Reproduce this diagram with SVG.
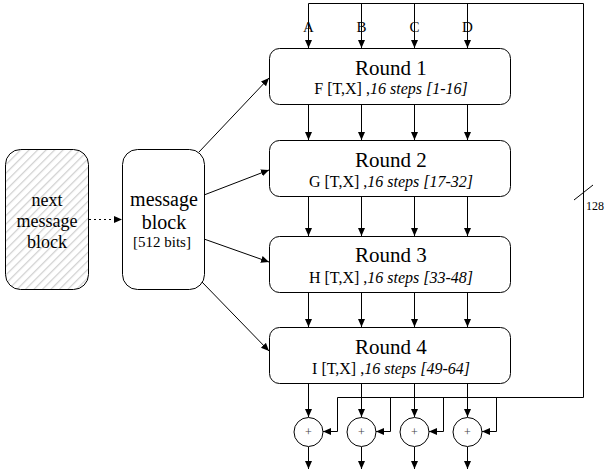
<svg xmlns="http://www.w3.org/2000/svg" width="605" height="474" viewBox="0 0 605 474">
<style>
.box{fill:#fff;stroke:#000;stroke-width:1}
.ln{fill:none;stroke:#000;stroke-width:1}
.t{font-family:'Liberation Serif','Times New Roman','DejaVu Serif',serif;fill:#000;text-anchor:middle}
.title{font-size:21px}
.sub{font-size:16px}
.it{font-style:italic}
</style>
<defs>
<marker id="ah" markerUnits="userSpaceOnUse" markerWidth="9" markerHeight="8" refX="8" refY="3.5" orient="auto"><path d="M0,0 L8,3.5 L0,7 z" fill="#000"/></marker>
<pattern id="hatch" patternUnits="userSpaceOnUse" width="6" height="6" patternTransform="rotate(45)"><rect width="6" height="6" fill="#fff"/><line x1="0" y1="0" x2="0" y2="6" stroke="#d0d0d0" stroke-width="2.5"/></pattern>
</defs>
<g id="next-block"><rect x="5.5" y="149.5" width="83" height="140" rx="15" fill="url(#hatch)" stroke="#000"/>
<text class="t" x="47" y="206" font-size="18">next</text><text class="t" x="47" y="227" font-size="18">message</text><text class="t" x="47" y="248" font-size="18">block</text></g>
<g id="message-block"><rect class="box" x="122.5" y="149.5" width="82" height="140" rx="15"/>
<text class="t" x="164" y="206" font-size="20">message</text><text class="t" x="164" y="229" font-size="20">block</text><text class="t" x="162" y="247" font-size="15">[512 bits]</text></g>
<g id="round1"><rect class="box" x="269.5" y="48.5" width="241" height="56" rx="10"/><text class="t title" x="391" y="75">Round 1</text><text class="t sub" x="391" y="94">F [T,X] ,<tspan class="it">16 steps [1-16]</tspan></text></g>
<g id="round2"><rect class="box" x="269.5" y="140.5" width="241" height="56" rx="10"/><text class="t title" x="391" y="167">Round 2</text><text class="t sub" x="391" y="186.5">G [T,X] ,<tspan class="it">16 steps [17-32]</tspan></text></g>
<g id="round3"><rect class="box" x="269.5" y="236.5" width="241" height="56" rx="10"/><text class="t title" x="391" y="262">Round 3</text><text class="t sub" x="391" y="282.5">H [T,X] ,<tspan class="it">16 steps [33-48]</tspan></text></g>
<g id="round4"><rect class="box" x="269.5" y="327.5" width="241" height="56" rx="10"/><text class="t title" x="391" y="353.5">Round 4</text><text class="t sub" x="391" y="374">I [T,X] ,<tspan class="it">16 steps [49-64]</tspan></text></g>
<g id="adders">
<circle class="box" cx="308.5" cy="432" r="14.5"/><circle class="box" cx="361.5" cy="432" r="14.5"/><circle class="box" cx="414.5" cy="432" r="14.5"/><circle class="box" cx="467.5" cy="432" r="14.5"/>
<g class="t" font-size="12" style="fill:#444"><text x="308.5" y="436">+</text><text x="361.5" y="436">+</text><text x="414.5" y="436">+</text><text x="467.5" y="436">+</text></g>
</g>
<g id="connectors">
<path class="ln" d="M308.5,3.5 H583.5 V397.5 H337.5"/>
<g marker-end="url(#ah)" class="ln">
<path d="M308.5,3.5 V48"/><path d="M361.5,3.5 V48"/><path d="M414.5,3.5 V48"/><path d="M467.5,3.5 V48"/>
<path d="M308.5,105 V140"/><path d="M361.5,105 V140"/><path d="M414.5,105 V140"/><path d="M467.5,105 V140"/>
<path d="M308.5,197 V236"/><path d="M361.5,197 V236"/><path d="M414.5,197 V236"/><path d="M467.5,197 V236"/>
<path d="M308.5,293 V327"/><path d="M361.5,293 V327"/><path d="M414.5,293 V327"/><path d="M467.5,293 V327"/>
<path d="M308.5,384 V417"/><path d="M361.5,384 V417"/><path d="M414.5,384 V417"/><path d="M467.5,384 V417"/>
<path d="M308.5,447 V469"/><path d="M361.5,447 V469"/><path d="M414.5,447 V469"/><path d="M467.5,447 V469"/>
<path d="M337.5,397.5 V431.5 H323"/><path d="M390.5,397.5 V431.5 H376"/><path d="M443.5,397.5 V431.5 H429"/><path d="M496.5,397.5 V431.5 H482"/>
<path d="M199,152 L269,78"/><path d="M204,195 L269,170"/><path d="M204,239 L269,262"/><path d="M202,282 L269,351"/>
<path d="M89,219.5 H122" stroke-dasharray="2,3"/>
</g>
<path class="ln" d="M574,200 L593,185"/>
<text class="t" x="586" y="210" font-size="12" style="text-anchor:start">128</text>
<g class="t" font-size="15"><text x="308.5" y="32">A</text><text x="361.5" y="32">B</text><text x="414.5" y="32">C</text><text x="467.5" y="32">D</text></g>
</g>
</svg>
